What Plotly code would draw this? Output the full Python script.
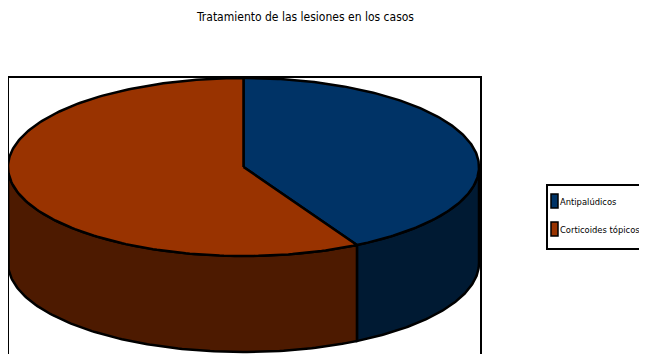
import numpy as np
import plotly.graph_objects as go

# ---- data ----
title_text = "Tratamiento de las lesiones en los casos"
categories = ["Antipalúdicos", "Corticoides tópicos"]
values = [42, 58]

# ---- style ----
top_colors = ["#003366", "#993300"]
side_colors = ["#001a33", "#4d1a00"]
W, H = 647, 354
OFF = 8                 # page body margin compensation
cx, cy = 243.5, 167.0   # pixel centre of top face
a, b = 235.5, 89.0      # ellipse semi-axes
depth = 96.0
OUT = "#000000"
FONT = "Liberation Sans Narrow, DejaVu Sans Condensed, Arial Narrow, Arial, sans-serif"


def pt(theta_deg, dy=0.0):
    t = np.radians(theta_deg)
    return cx + a * np.sin(t), cy - b * np.cos(t) + dy


fig = go.Figure()

total = float(sum(values))
bounds = []
start = 0.0
for v in values:
    end = start + 360.0 * v / total
    bounds.append((start, end))
    start = end

# sides (front half: theta 90..270)
for (s, e), col in zip(bounds, side_colors):
    lo, hi = max(s, 90.0), min(e, 270.0)
    if hi <= lo:
        continue
    th = np.linspace(lo, hi, 120)
    xt, yt = pt(th)
    xb, yb = pt(th[::-1], depth)
    xs = np.concatenate([xt, xb, xt[:1]])
    ys = np.concatenate([yt, yb, yt[:1]])
    fig.add_trace(go.Scatter(x=xs, y=ys, mode="lines", fill="toself",
                             fillcolor=col, line=dict(color=OUT, width=2.5),
                             hoverinfo="skip", showlegend=False))

# tops
for (s, e), col, name in zip(bounds, top_colors, categories):
    th = np.linspace(s, e, 200)
    xa, ya = pt(th)
    xs = np.concatenate([[cx], xa, [cx]])
    ys = np.concatenate([[cy], ya, [cy]])
    fig.add_trace(go.Scatter(x=xs, y=ys, mode="lines", fill="toself",
                             fillcolor=col, line=dict(color=OUT, width=2.5),
                             name=name, hoverinfo="name", showlegend=False))

shapes = [
    # plot-area frame
    dict(type="rect", xref="x", yref="y", x0=8, x1=481, y0=77, y1=H + 20,
         line=dict(color=OUT, width=2), layer="below"),
    # legend frame
    dict(type="rect", xref="x", yref="y", x0=547, x1=W + 20, y0=185, y1=249,
         line=dict(color=OUT, width=2)),
]
annotations = [
    dict(text=title_text, x=(305 - OFF) / W, y=1.0, xref="paper", yref="paper",
         showarrow=False, xanchor="center", yanchor="top",
         font=dict(family=FONT, size=12, color="#000000")),
]
leg_y = [201, 229]
for yy, col, name in zip(leg_y, top_colors, categories):
    shapes.append(dict(type="rect", xref="x", yref="y", x0=551, x1=558,
                       y0=yy - 7, y1=yy + 7, fillcolor=col,
                       line=dict(color=OUT, width=1.5)))
    annotations.append(dict(text=name, x=558, y=yy, xref="x", yref="y",
                            showarrow=False, xanchor="left", yanchor="middle",
                            font=dict(family=FONT, size=9.3, color="#000000")))

fig.update_layout(
    width=W, height=H,
    margin=dict(l=0, r=0, t=0, b=0),
    paper_bgcolor="white", plot_bgcolor="white",
    xaxis=dict(range=[OFF, W + OFF], visible=False, fixedrange=True),
    yaxis=dict(range=[H + OFF, OFF], visible=False, fixedrange=True),
    shapes=shapes, annotations=annotations, showlegend=False,
)

fig.write_html("out.html")
